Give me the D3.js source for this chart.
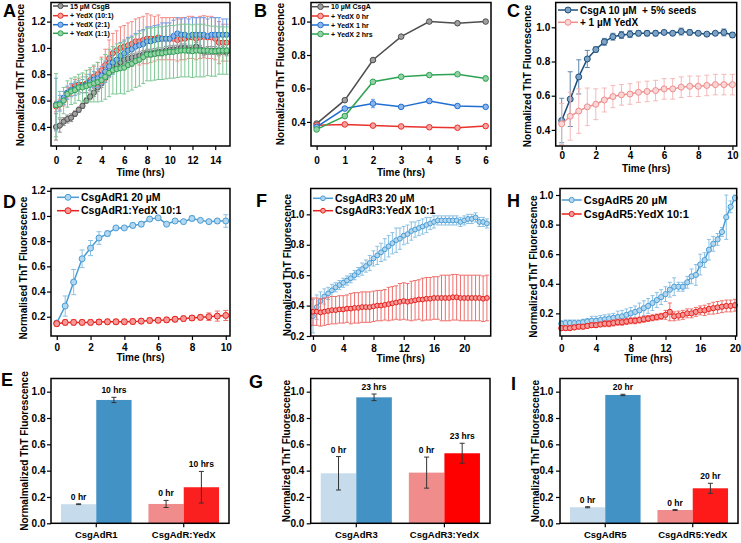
<!doctype html>
<html lang="en-US">
<head>
<meta charset="UTF-8">
<title>ThT kinetics panels</title>
<script src="https://d3js.org/d3.v7.min.js"></script>
<style>
  body { margin: 0; background: #fff; }
  svg text { font-family: "Liberation Sans", Arial, sans-serif; font-weight: bold; white-space: pre; }
</style>
</head>
<body>
<svg id="fig" width="741" height="543"></svg>
<script>
// ---- data ---- //

// panel A: 15 uM CsgB +/- YedX
const timesA = [0,0.33,0.67,1,1.33,1.67,2,2.33,2.67,3,3.33,3.67,4,4.33,4.67,5,5.33,5.67,6,6.33,6.67,7,7.33,7.67,8,8.33,8.67,9,9.33,9.67,10,10.33,10.67,11,11.33,11.67,12,12.33,12.67,13,13.33,13.67,14,14.33,14.67,15];
const csgbA = [0.40,0.41,0.44,0.46,0.47,0.50,0.53,0.56,0.60,0.63,0.66,0.70,0.73,0.77,0.81,0.845,0.87,0.89,0.91,0.92,0.925,0.93,0.94,0.95,0.96,0.96,0.965,0.97,0.97,0.98,0.985,0.99,0.99,1.0,1.0,0.99,0.99,1.01,0.99,0.97,0.98,0.98,0.98,0.97,0.98,0.97];
const csgbErrA = [0.1,0.05,0.03,0.03,0.03,0.02,0.02,0.02,0.02,0.02,0.03,0.03,0.03,0.03,0.03,0.03,0.03,0.03,0.03,0.03,0.03,0.03,0.03,0.03,0.03,0.03,0.03,0.03,0.03,0.03,0.03,0.03,0.03,0.03,0.03,0.03,0.03,0.03,0.03,0.03,0.03,0.03,0.03,0.03,0.03,0.03];
const yedx10A = [0.555,0.57,0.60,0.66,0.68,0.71,0.72,0.72,0.73,0.755,0.78,0.80,0.83,0.87,0.92,0.96,0.98,1.0,1.01,1.02,1.03,1.05,1.05,1.06,1.07,1.07,1.07,1.08,1.07,1.07,1.07,1.07,1.06,1.07,1.07,1.08,1.08,1.07,1.08,1.085,1.08,1.08,1.07,1.04,1.04,1.04];
const yedx10ErrA = [0.04,0.04,0.04,0.04,0.04,0.05,0.05,0.06,0.07,0.08,0.08,0.09,0.10,0.12,0.14,0.15,0.15,0.16,0.16,0.17,0.17,0.17,0.18,0.18,0.19,0.18,0.17,0.17,0.16,0.16,0.16,0.16,0.16,0.16,0.16,0.16,0.16,0.16,0.16,0.16,0.16,0.16,0.16,0.16,0.14,0.14];
const yedx2A = [0.57,0.58,0.62,0.66,0.68,0.69,0.70,0.71,0.72,0.74,0.76,0.77,0.79,0.82,0.86,0.89,0.91,0.94,0.96,0.98,0.99,1.01,1.02,1.03,1.05,1.05,1.06,1.065,1.07,1.07,1.07,1.09,1.11,1.10,1.10,1.09,1.10,1.10,1.10,1.10,1.09,1.10,1.10,1.10,1.10,1.10];
const yedx2ErrA = [0.2,0.06,0.05,0.05,0.05,0.05,0.05,0.05,0.06,0.06,0.06,0.07,0.07,0.08,0.08,0.09,0.09,0.10,0.10,0.10,0.10,0.10,0.11,0.11,0.11,0.11,0.11,0.11,0.12,0.12,0.12,0.12,0.12,0.12,0.13,0.13,0.13,0.13,0.13,0.13,0.13,0.13,0.13,0.13,0.12,0.12];
const yedx1A = [0.565,0.57,0.60,0.65,0.67,0.68,0.70,0.70,0.71,0.72,0.73,0.74,0.755,0.78,0.81,0.83,0.84,0.845,0.85,0.87,0.88,0.90,0.91,0.93,0.95,0.95,0.955,0.96,0.96,0.965,0.97,0.97,0.975,0.98,0.98,0.98,0.975,0.98,0.98,0.98,0.98,0.975,0.975,0.98,0.98,0.98];
const yedx1ErrA = [0.24,0.1,0.1,0.1,0.1,0.1,0.1,0.11,0.12,0.13,0.14,0.15,0.16,0.17,0.18,0.18,0.19,0.19,0.2,0.2,0.2,0.2,0.2,0.2,0.2,0.2,0.2,0.2,0.2,0.2,0.2,0.2,0.2,0.2,0.2,0.2,0.2,0.2,0.2,0.2,0.19,0.19,0.19,0.18,0.18,0.18];
const legendA = ["15 \u00b5M CsgB", "+ YedX (10:1)", "+ YedX (2:1)", "+ YedX (1:1)"];

// panel B: 10 uM CsgA, YedX added at different times
const timesB = [0,1,2,3,4,5,6];
const csgaB = [0.39,0.53,0.77,0.91,1.0,0.99,1.0];
const csgaErrB = [0.01,0.01,0.01,0.01,0.01,0.01,0.01];
const yedx0B = [0.38,0.385,0.378,0.373,0.368,0.365,0.375];
const yedx0ErrB = [0.01,0.01,0.01,0.01,0.01,0.01,0.01];
const yedx1hB = [0.37,0.48,0.51,0.49,0.525,0.495,0.49];
const yedx1hErrB = [0.01,0.01,0.025,0.01,0.01,0.01,0.01];
const yedx2hB = [0.355,0.435,0.64,0.67,0.68,0.685,0.66];
const yedx2hErrB = [0.01,0.015,0.01,0.01,0.01,0.01,0.015];
const legendB = ["10 \u00b5M CsgA", "+ YedX 0 hr", "+ YedX 1 hr", "+ YedX 2 hrs"];

// panel C: seeded CsgA
const timesC = [0,0.5,1,1.5,2,2.5,3,3.5,4,4.5,5,5.5,6,6.5,7,7.5,8,8.5,9,9.5,10];
const seededC = [0.455,0.58,0.71,0.815,0.87,0.915,0.945,0.955,0.96,0.965,0.965,0.965,0.97,0.965,0.975,0.97,0.965,0.96,0.965,0.97,0.955];
const seededErrC = [0.13,0.16,0.1,0.05,0.015,0.02,0.02,0.02,0.02,0.015,0.015,0.015,0.01,0.01,0.02,0.015,0.01,0.01,0.01,0.02,0.015];
const seededYedxC = [0.435,0.48,0.51,0.535,0.55,0.575,0.595,0.605,0.61,0.62,0.625,0.63,0.64,0.64,0.65,0.655,0.655,0.66,0.665,0.665,0.665];
const seededYedxErrC = [0.12,0.14,0.13,0.11,0.09,0.07,0.065,0.06,0.06,0.06,0.06,0.06,0.06,0.06,0.06,0.06,0.06,0.06,0.06,0.06,0.06];
const legendC = ["CsgA 10 \u00b5M  + 5% seeds", "+ 1 \u00b5M YedX"];

// panel D: CsgAdR1
const timesD = [0,0.5,1,1.5,2,2.5,3,3.5,4,4.5,5,5.5,6,6.5,7,7.5,8,8.5,9,9.5,10];
const dr1D = [0.15,0.285,0.475,0.66,0.745,0.825,0.86,0.905,0.905,0.925,0.935,0.975,0.985,0.935,0.96,0.955,0.98,0.965,0.955,0.96,0.96];
const dr1ErrD = [0.01,0.08,0.1,0.07,0.06,0.05,0.02,0.01,0.01,0.02,0.02,0.01,0.01,0.01,0.01,0.01,0.02,0.01,0.01,0.02,0.05];
const dr1YedxD = [0.145,0.155,0.155,0.155,0.155,0.158,0.16,0.16,0.16,0.162,0.165,0.17,0.172,0.175,0.18,0.185,0.19,0.195,0.2,0.205,0.21];
const dr1YedxErrD = [0.02,0.02,0.02,0.02,0.02,0.02,0.02,0.02,0.02,0.02,0.02,0.02,0.02,0.02,0.02,0.02,0.02,0.02,0.03,0.04,0.04];
const legendD = ["CsgAdR1 20 \u00b5M", "CsgAdR1:YedX 10:1"];

// panel F: CsgAdR3
const timesF = [0,0.5,1,1.5,2,2.5,3,3.5,4,4.5,5,5.5,6,6.5,7,7.5,8,8.5,9,9.5,10,10.5,11,11.5,12,12.5,13,13.5,14,14.5,15,15.5,16,16.5,17,17.5,18,18.5,19,19.5,20,20.5,21,21.5,22,22.5,23];
const dr3F = [0.33,0.39,0.43,0.46,0.48,0.50,0.52,0.535,0.55,0.565,0.58,0.60,0.62,0.64,0.66,0.68,0.71,0.73,0.75,0.77,0.79,0.81,0.83,0.84,0.86,0.87,0.89,0.90,0.91,0.92,0.93,0.94,0.95,0.96,0.96,0.96,0.96,0.96,0.96,0.95,0.96,0.97,0.97,0.98,0.95,0.95,0.94];
const dr3ErrF = [0.11,0.08,0.06,0.05,0.04,0.04,0.03,0.03,0.03,0.03,0.03,0.03,0.03,0.04,0.04,0.05,0.05,0.06,0.06,0.07,0.07,0.07,0.08,0.07,0.06,0.06,0.06,0.05,0.05,0.05,0.05,0.04,0.04,0.03,0.03,0.03,0.03,0.03,0.03,0.03,0.03,0.03,0.03,0.03,0.03,0.03,0.03];
const dr3YedxF = [0.36,0.36,0.355,0.36,0.365,0.37,0.37,0.375,0.375,0.38,0.38,0.385,0.385,0.39,0.39,0.39,0.395,0.40,0.40,0.405,0.41,0.415,0.42,0.425,0.43,0.425,0.43,0.435,0.44,0.44,0.445,0.445,0.45,0.45,0.45,0.45,0.45,0.455,0.455,0.45,0.45,0.45,0.45,0.45,0.45,0.445,0.45];
const dr3YedxErrF = [0.09,0.09,0.09,0.09,0.09,0.09,0.09,0.09,0.09,0.09,0.1,0.1,0.1,0.1,0.1,0.1,0.1,0.1,0.1,0.1,0.11,0.11,0.11,0.12,0.12,0.12,0.13,0.13,0.13,0.14,0.14,0.14,0.14,0.14,0.15,0.15,0.15,0.15,0.15,0.15,0.15,0.15,0.15,0.15,0.15,0.15,0.15];
const legendF = ["CsgAdR3 20 \u00b5M", "CsgAdR3:YedX 10:1"];

// panel H: CsgAdR5
const timesH = [0,0.5,1,1.5,2,2.5,3,3.5,4,4.5,5,5.5,6,6.5,7,7.5,8,8.5,9,9.5,10,10.5,11,11.5,12,12.5,13,13.5,14,14.5,15,15.5,16,16.5,17,17.5,18,18.5,19,19.5,20];
const dr5H = [0.13,0.135,0.135,0.135,0.135,0.14,0.145,0.15,0.15,0.155,0.16,0.165,0.17,0.175,0.18,0.19,0.20,0.21,0.22,0.235,0.25,0.27,0.29,0.31,0.33,0.36,0.38,0.38,0.38,0.41,0.45,0.46,0.53,0.56,0.63,0.67,0.70,0.75,0.85,0.92,0.98];
const dr5ErrH = [0.02,0.02,0.02,0.02,0.02,0.02,0.02,0.03,0.03,0.03,0.03,0.03,0.03,0.04,0.04,0.04,0.04,0.04,0.05,0.05,0.05,0.05,0.05,0.05,0.05,0.05,0.06,0.03,0.03,0.04,0.05,0.07,0.07,0.05,0.07,0.05,0.04,0.03,0.15,0.04,0.02];
const dr5YedxH = [0.10,0.10,0.10,0.105,0.11,0.11,0.115,0.12,0.12,0.125,0.13,0.13,0.135,0.14,0.14,0.145,0.15,0.15,0.155,0.16,0.165,0.17,0.175,0.18,0.19,0.21,0.18,0.185,0.19,0.20,0.20,0.21,0.22,0.22,0.23,0.235,0.24,0.245,0.25,0.25,0.255];
const dr5YedxErrH = [0.015,0.015,0.015,0.015,0.015,0.015,0.015,0.015,0.015,0.015,0.02,0.02,0.02,0.02,0.02,0.02,0.02,0.02,0.02,0.02,0.02,0.02,0.02,0.02,0.03,0.06,0.03,0.03,0.03,0.03,0.03,0.03,0.03,0.035,0.035,0.04,0.04,0.04,0.04,0.04,0.04];
const legendH = ["CsgAdR5 20 \u00b5M", "CsgAdR5:YedX 10:1"];

// bar panels E, G, I (start / end of the run)
const catsE = ["CsgAdR1", "CsgAdR:YedX"];
const startE = [0.145, 0.147], startErrE = [0.003, 0.027];
const endE = [0.937, 0.274], endErrE = [0.02, 0.12];
const lblE = ["0 hr", "10 hrs"];

const catsG = ["CsgAdR3", "CsgAdR3:YedX"];
const startG = [0.38, 0.385], startErrG = [0.127, 0.118];
const endG = [0.957, 0.532], endErrG = [0.025, 0.076];
const lblG = ["0 hr", "23 hrs"];

const catsI = ["CsgAdR5", "CsgAdR5:YedX"];
const startI = [0.122, 0.101], startErrI = [0.004, 0.003];
const endI = [0.975, 0.266], endErrI = [0.005, 0.038];
const lblI = ["0 hr", "20 hr"];

const yTicksBar = [0, 0.2, 0.4, 0.6, 0.8, 1.0];

// ---- colours ---- //
const GRAY = "#4d4d4d", RED = "#e8322b", BLUE = "#1f6fd1", GREEN = "#2ea352";
const NAVY = "#1d4f7c", PINK = "#f08c8c";
const SKY = "#4a9dd4", BRED = "#e8201c";

const svg = d3.select("#fig");
const FONT = '"Liberation Sans", Arial, sans-serif';

function styleAxis(a) {
    a.select(".domain").remove();
    a.attr("font-family", FONT).attr("font-weight", "bold").attr("font-size", 10);
    a.selectAll("line").attr("stroke-width", 1.2);
}

function frame(p) {
    svg.append("rect")
        .attr("x", p.x0).attr("y", p.y0)
        .attr("width", p.x1 - p.x0).attr("height", p.y1 - p.y0)
        .attr("fill", "none").attr("stroke", "#000").attr("stroke-width", 1.5);
}

function titles(p) {
    svg.append("text").text(p.yTitle)
        .attr("transform", `translate(${p.ytx},${p.yty}) rotate(-90)`)
        .attr("text-anchor", "middle").attr("font-size", 10);
    if (p.xTitleY) {
        svg.append("text").text("Time (hrs)")
            .attr("x", (p.x0 + p.x1) / 2).attr("y", p.xTitleY)
            .attr("text-anchor", "middle").attr("font-size", 10);
    }
    svg.append("text").text(p.letter)
        .attr("x", p.lx).attr("y", p.ly).attr("font-size", 18);
}

function linePanel(p) {
    const x = d3.scaleLinear().domain(p.xDom).range([p.x0, p.x1]);
    const y = d3.scaleLinear().domain(p.yDom).range([p.y1, p.y0]);

    const xa = svg.append("g").attr("transform", `translate(0,${p.y1})`)
        .call(d3.axisBottom(x).tickValues(p.xTicks).tickSize(4).tickSizeOuter(0)
            .tickPadding(p.xPad).tickFormat(d3.format("d")));
    const ya = svg.append("g").attr("transform", `translate(${p.x0},0)`)
        .call(d3.axisLeft(y).tickValues(p.yTicks).tickSize(4).tickSizeOuter(0)
            .tickPadding(p.yPad).tickFormat(d3.format(".1f")));
    styleAxis(xa);
    styleAxis(ya);

    p.series.forEach(s => {
        const pts = s.t.map((t, i) => ({ t: t, v: s.v[i], e: s.e[i] }));
        const c = p.cap;
        svg.append("g").attr("stroke", s.err).attr("stroke-width", 1).attr("fill", "none")
            .selectAll("path").data(pts).join("path")
            .attr("d", d => {
                const xx = x(d.t), lo = y(d.v - d.e), hi = y(d.v + d.e);
                return `M${xx},${lo}V${hi}M${xx - c},${lo}H${xx + c}M${xx - c},${hi}H${xx + c}`;
            });
        svg.append("path").datum(pts)
            .attr("fill", "none").attr("stroke", s.color).attr("stroke-width", 1.5)
            .attr("d", d3.line().x(d => x(d.t)).y(d => y(d.v)));
        svg.append("g").selectAll("circle").data(pts).join("circle")
            .attr("cx", d => x(d.t)).attr("cy", d => y(d.v)).attr("r", p.r)
            .attr("fill", s.fill).attr("stroke", s.color).attr("stroke-width", 1);
    });

    // legend
    const L = p.legend;
    p.series.forEach((s, i) => {
        const ly = L.ys[i];
        svg.append("line").attr("x1", L.x).attr("x2", L.x + L.len)
            .attr("y1", ly).attr("y2", ly).attr("stroke", s.color).attr("stroke-width", 1.5);
        svg.append("circle").attr("cx", L.x + L.len / 2).attr("cy", ly).attr("r", p.r)
            .attr("fill", s.fill).attr("stroke", s.color).attr("stroke-width", 1);
        svg.append("text").text(L.labels[i])
            .attr("x", L.x + L.len + 2).attr("y", ly).attr("dy", "0.36em")
            .attr("font-size", L.size);
    });

    frame(p);
    titles(p);
}

function barPanel(p) {
    const x = d3.scaleBand().domain(p.cats).range([p.x0, p.x1]).paddingInner(0.193).paddingOuter(0.114);
    const sub = d3.scaleBand().domain(["start", "end"]).range([0, x.bandwidth()]);
    const y = d3.scaleLinear().domain([0, 1.1]).range([p.y1, p.y0]);

    const xa = svg.append("g").attr("transform", `translate(0,${p.y1})`)
        .call(d3.axisBottom(x).tickSize(4).tickSizeOuter(0).tickPadding(4));
    const ya = svg.append("g").attr("transform", `translate(${p.x0},0)`)
        .call(d3.axisLeft(y).tickValues(yTicksBar).tickSize(4).tickSizeOuter(0)
            .tickPadding(p.yPad).tickFormat(d3.format(".1f")));
    styleAxis(xa);
    styleAxis(ya);
    xa.attr("font-size", 9.5);

    const rows = [];
    p.cats.forEach((c, i) => {
        rows.push({ cat: c, key: "start", v: p.start[i], e: p.startErr[i], label: p.labels[0], color: p.colors[i][0] });
        rows.push({ cat: c, key: "end", v: p.end[i], e: p.endErr[i], label: p.labels[1], color: p.colors[i][1] });
    });

    svg.append("g").selectAll("rect").data(rows).join("rect")
        .attr("x", d => x(d.cat) + sub(d.key)).attr("width", sub.bandwidth())
        .attr("y", d => y(d.v)).attr("height", d => y(0) - y(d.v))
        .attr("fill", d => d.color);

    svg.append("g").attr("stroke", "#333").attr("stroke-width", 1).attr("fill", "none")
        .selectAll("path").data(rows).join("path")
        .attr("d", d => {
            const xx = x(d.cat) + sub(d.key) + sub.bandwidth() / 2;
            const lo = y(d.v - d.e), hi = y(d.v + d.e);
            return `M${xx},${lo}V${hi}M${xx - 2.5},${lo}H${xx + 2.5}M${xx - 2.5},${hi}H${xx + 2.5}`;
        });

    svg.append("g").selectAll("text").data(rows).join("text")
        .text(d => d.label)
        .attr("x", d => x(d.cat) + sub(d.key) + sub.bandwidth() / 2)
        .attr("y", d => y(d.v + d.e) - 4)
        .attr("text-anchor", "middle").attr("font-size", 8.5);

    frame(p);
    titles(p);
}

const barColours = [["#c6dcec", "#4292c6"], ["#f08c8c", "#fb2020"]];

// ---- top row ---- //
linePanel({
    x0: 51, x1: 230, y0: 2.5, y1: 146, xDom: [-0.44, 15.3], yDom: [0.255, 1.345],
    xTicks: [0, 2, 4, 6, 8, 10, 12, 14], yTicks: [0.4, 0.6, 0.8, 1.0, 1.2],
    xPad: 7, yPad: 1.5, r: 2.6, cap: 2,
    series: [
        { t: timesA, v: csgbA, e: csgbErrA, color: GRAY, fill: "#a0a0a0", err: "#8a8a8a" },
        { t: timesA, v: yedx10A, e: yedx10ErrA, color: RED, fill: "#f7a3a0", err: "#f28b87" },
        { t: timesA, v: yedx2A, e: yedx2ErrA, color: BLUE, fill: "#8db5ec", err: "#6f9fe6" },
        { t: timesA, v: yedx1A, e: yedx1ErrA, color: GREEN, fill: "#93d2a6", err: "#7fc795" }
    ],
    legend: { x: 53, len: 15, ys: [6, 15.7, 24.7, 33.3], size: 7, labels: legendA },
    yTitle: "Normalized ThT Fluorescence", ytx: 24, yty: 75, xTitleY: 176,
    letter: "A", lx: 3, ly: 17
});

linePanel({
    x0: 311, x1: 491, y0: 2.5, y1: 146, xDom: [-0.2, 6.19], yDom: [0.256, 1.114],
    xTicks: [0, 1, 2, 3, 4, 5, 6], yTicks: [0.4, 0.6, 0.8, 1.0],
    xPad: 7, yPad: 1.5, r: 2.8, cap: 2,
    series: [
        { t: timesB, v: csgaB, e: csgaErrB, color: GRAY, fill: "#a0a0a0", err: "#8a8a8a" },
        { t: timesB, v: yedx0B, e: yedx0ErrB, color: RED, fill: "#f7a3a0", err: "#f28b87" },
        { t: timesB, v: yedx1hB, e: yedx1hErrB, color: BLUE, fill: "#8db5ec", err: "#6f9fe6" },
        { t: timesB, v: yedx2hB, e: yedx2hErrB, color: GREEN, fill: "#93d2a6", err: "#7fc795" }
    ],
    legend: { x: 312, len: 17, ys: [6.7, 16, 25, 34], size: 7, labels: legendB },
    yTitle: "Normalized ThT Fluorescence", ytx: 284.3, yty: 74, xTitleY: 176,
    letter: "B", lx: 254, ly: 17
});

linePanel({
    x0: 555.7, x1: 736.7, y0: 2.5, y1: 146, xDom: [-0.35, 10.25], yDom: [0.306, 1.145],
    xTicks: [0, 2, 4, 6, 8, 10], yTicks: [0.4, 0.6, 0.8, 1.0],
    xPad: 2, yPad: 1.5, r: 3, cap: 2.5,
    series: [
        { t: timesC, v: seededC, e: seededErrC, color: NAVY, fill: "#7fa3c4", err: "#5d86ad" },
        { t: timesC, v: seededYedxC, e: seededYedxErrC, color: PINK, fill: "#fbd6d6", err: "#f6b8b8" }
    ],
    legend: { x: 558, len: 20, ys: [10, 22.3], size: 10, labels: legendC },
    yTitle: "Normalized ThT Fluorescence", ytx: 531, yty: 76, xTitleY: 172,
    letter: "C", lx: 507, ly: 17
});

// ---- middle row ---- //
linePanel({
    x0: 51, x1: 230, y0: 188.5, y1: 336, xDom: [-0.34, 10.25], yDom: [0.047, 1.218],
    xTicks: [0, 2, 4, 6, 8, 10], yTicks: [0.2, 0.4, 0.6, 0.8, 1.0, 1.2],
    xPad: 4, yPad: 1.5, r: 3, cap: 2.5,
    series: [
        { t: timesD, v: dr1D, e: dr1ErrD, color: SKY, fill: "#b3d7f0", err: "#8cc0e4" },
        { t: timesD, v: dr1YedxD, e: dr1YedxErrD, color: BRED, fill: "#f59a98", err: "#ef6f6c" }
    ],
    legend: { x: 57, len: 22, ys: [197.3, 210.7], size: 10.5, labels: legendD },
    yTitle: "Normalised ThT Fluorescence", ytx: 27.3, yty: 268, xTitleY: 361,
    letter: "D", lx: 3, ly: 208
});

linePanel({
    x0: 310.7, x1: 490.7, y0: 188.5, y1: 336, xDom: [-0.3, 23.5], yDom: [0.2, 1.17],
    xTicks: [0, 4, 8, 12, 16, 20], yTicks: [0.2, 0.4, 0.6, 0.8, 1.0],
    xPad: 4.5, yPad: 2.4, r: 2.4, cap: 2,
    series: [
        { t: timesF, v: dr3F, e: dr3ErrF, color: SKY, fill: "#b3d7f0", err: "#8cc0e4" },
        { t: timesF, v: dr3YedxF, e: dr3YedxErrF, color: BRED, fill: "#f59a98", err: "#ef6f6c" }
    ],
    legend: { x: 313, len: 20, ys: [198.3, 210.7], size: 10.5, labels: legendF },
    yTitle: "Normalized ThT Fluorescence", ytx: 290.7, yty: 265, xTitleY: 362,
    letter: "F", lx: 256, ly: 207
});

linePanel({
    x0: 560, x1: 736.7, y0: 188.5, y1: 336, xDom: [-0.15, 20.2], yDom: [0.047, 1.044],
    xTicks: [0, 4, 8, 12, 16, 20], yTicks: [0.2, 0.4, 0.6, 0.8, 1.0],
    xPad: 4.5, yPad: 2.7, r: 2.6, cap: 2,
    series: [
        { t: timesH, v: dr5H, e: dr5ErrH, color: SKY, fill: "#b3d7f0", err: "#8cc0e4" },
        { t: timesH, v: dr5YedxH, e: dr5YedxErrH, color: BRED, fill: "#f59a98", err: "#ef6f6c" }
    ],
    legend: { x: 561.7, len: 20, ys: [200, 214], size: 11, labels: legendH },
    yTitle: "Normalized ThT Fluorescence", ytx: 536.7, yty: 266.5, xTitleY: 362,
    letter: "H", lx: 507, ly: 207
});

// ---- bottom row ---- //
barPanel({
    x0: 51, x1: 229, y0: 378.5, y1: 523.3, yPad: 1.5,
    cats: catsE, start: startE, startErr: startErrE, end: endE, endErr: endErrE,
    labels: lblE, colors: barColours,
    yTitle: "Normalmalized ThT Fluorescence", ytx: 28.3, yty: 451,
    letter: "E", lx: 1, ly: 386
});

barPanel({
    x0: 310.7, x1: 490, y0: 378.5, y1: 523.3, yPad: 2.4,
    cats: catsG, start: startG, startErr: startErrG, end: endG, endErr: endErrG,
    labels: lblG, colors: [["#c6dcec", "#4292c6"], ["#f08c8c", "#ff0000"]],
    yTitle: "Normalized ThT Fluorescence", ytx: 290, yty: 451,
    letter: "G", lx: 249, ly: 388
});

barPanel({
    x0: 560, x1: 738, y0: 378.5, y1: 523.3, yPad: 2.7,
    cats: catsI, start: startI, startErr: startErrI, end: endI, endErr: endErrI,
    labels: lblI, colors: [["#c6dcec", "#4292c6"], ["#f08c8c", "#ff1a1a"]],
    yTitle: "Normalized ThT Fluorescence", ytx: 538.7, yty: 451,
    letter: "I", lx: 511, ly: 390
});
</script>
</body>
</html>
